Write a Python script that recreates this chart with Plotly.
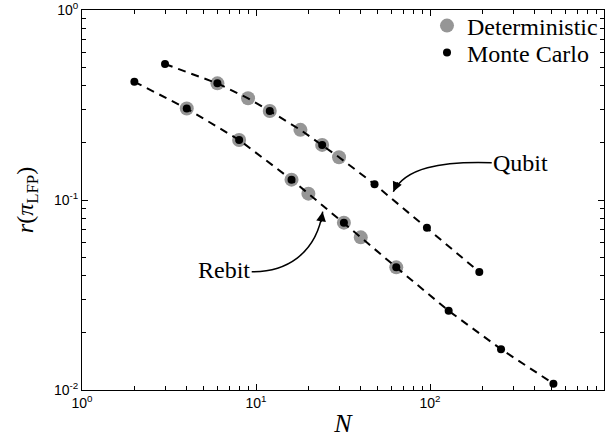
import plotly.graph_objects as go

# Qubit data (N, r)
qubit_det_N = [6, 9, 12, 18, 24, 30]
qubit_det_r = [0.411, 0.343, 0.294, 0.234, 0.195, 0.168]
qubit_mc_N = [3, 6, 12, 24, 48, 96, 192]
qubit_mc_r = [0.520, 0.411, 0.294, 0.195, 0.121, 0.0715, 0.0418]

# Rebit data
rebit_det_N = [4, 8, 16, 20, 32, 40, 64]
rebit_det_r = [0.303, 0.207, 0.128, 0.108, 0.076, 0.0636, 0.0442]
rebit_mc_N = [2, 4, 8, 16, 32, 64, 128, 256, 512]
rebit_mc_r = [0.419, 0.303, 0.207, 0.128, 0.076, 0.0442, 0.0261, 0.0164, 0.0108]

# dashed guide curves through all the points
qubit_line_N = [3, 6, 9, 12, 18, 24, 30, 48, 96, 192]
qubit_line_r = [0.520, 0.411, 0.343, 0.294, 0.234, 0.195, 0.168, 0.121, 0.0715, 0.0418]
rebit_line_N = [2, 4, 8, 16, 20, 32, 40, 64, 128, 256, 512]
rebit_line_r = [0.419, 0.303, 0.207, 0.128, 0.108, 0.076, 0.0636, 0.0442, 0.0261, 0.0164, 0.0108]

x_major = [1, 10, 100, 1000]
x_major_text = ["10<sup>0</sup>", "10<sup>1</sup>", "10<sup>2</sup>", "10<sup>3</sup>"]
y_major = [0.01, 0.1, 1]
y_major_text = ["10<sup>-2</sup>", "10<sup>-1</sup>", "10<sup>0</sup>"]
x_minor = [m * d for d in (1, 10, 100) for m in range(2, 10)]
y_minor = [m * d for d in (0.01, 0.1) for m in range(2, 10)]

W, H = 611, 445
L, R, T, B = 82, 7, 10, 55
PW, PH = W - L - R, H - T - B

def px(x, y):
    # pixel position -> paper coordinates
    return (x - L) / PW, (H - B - y) / PH

SERIF = "Liberation Serif"
SANS = "Liberation Sans"
GRAY = "#969696"

fig = go.Figure()

fig.add_trace(go.Scatter(
    x=qubit_det_N + rebit_det_N, y=qubit_det_r + rebit_det_r,
    mode="markers", name="Deterministic", legend="legend",
    marker=dict(color=GRAY, size=14)
))
for xs, ys in ((qubit_line_N, qubit_line_r), (rebit_line_N, rebit_line_r)):
    fig.add_trace(go.Scatter(
        x=xs, y=ys, mode="lines", showlegend=False, hoverinfo="skip",
        line=dict(color="black", width=2, dash="8px,6px")
    ))
fig.add_trace(go.Scatter(
    x=qubit_mc_N + rebit_mc_N, y=qubit_mc_r + rebit_mc_r,
    mode="markers", name="Monte Carlo", legend="legend2",
    marker=dict(color="black", size=8)
))

# curved arrows (cubic paths in paper coordinates)
def curve(p0, c1, c2, p1):
    pts = [px(*p) for p in (p0, c1, c2, p1)]
    s = "M {:.4f},{:.4f} C {:.4f},{:.4f} {:.4f},{:.4f} {:.4f},{:.4f}".format(
        *[v for p in pts for v in p])
    return dict(type="path", xref="paper", yref="paper", path=s,
                line=dict(color="black", width=1.5))

fig.add_shape(curve((491.7, 162.7), (440, 161), (405, 168), (393.3, 191.7)))
fig.add_shape(curve((251.7, 271.7), (285, 272), (316, 255), (322.7, 211.7)))

def arrowhead(tip, ax, ay):
    x, y = px(*tip)
    fig.add_annotation(x=x, y=y, xref="paper", yref="paper", text="",
                       showarrow=True, ax=ax, ay=ay, arrowhead=2,
                       arrowsize=1.3, arrowwidth=1.5, arrowcolor="black")

arrowhead((393.3, 191.7), 5, -11)
arrowhead((322.7, 211.7), -2, 12)

for label, (lx, ly) in (("Qubit", (520.5, 162.7)), ("Rebit", (223.5, 270))):
    x, y = px(lx, ly)
    fig.add_annotation(x=x, y=y, xref="paper", yref="paper", text=label,
                       showarrow=False, xanchor="center", yanchor="middle",
                       font=dict(family=SERIF, size=24, color="black"))

axis_common = dict(
    type="log", showgrid=False, zeroline=False, automargin=False,
    showline=True, linecolor="black", linewidth=1, mirror="ticks",
    ticks="inside", ticklen=6, tickcolor="black", tickwidth=1,
    tickfont=dict(family=SANS, size=14, color="black"),
)

fig.update_xaxes(
    **axis_common, range=[0, 3],
    tickvals=x_major, ticktext=x_major_text,
    minor=dict(tickvals=x_minor, ticks="inside", ticklen=4, tickcolor="black"),
    title=dict(text="<i>N</i>", font=dict(family=SERIF, size=26, color="black"), standoff=4),
)
fig.update_yaxes(
    **axis_common, range=[-2, 0],
    tickvals=y_major, ticktext=y_major_text,
    minor=dict(tickvals=y_minor, ticks="inside", ticklen=4, tickcolor="black"),
    title=dict(text="<i>r</i>(<i>π</i><sub>LFP</sub>)",
               font=dict(family=SERIF, size=24, color="black"), standoff=13),
)

legend_style = dict(xanchor="left", yanchor="middle", bgcolor="rgba(0,0,0,0)",
                    font=dict(family=SERIF, size=24, color="black"),
                    itemsizing="trace")
fig.update_layout(
    width=W, height=H,
    margin=dict(l=L, r=R, t=T, b=B, autoexpand=False),
    font=dict(family=SERIF, color="black"),
    paper_bgcolor="white", plot_bgcolor="white",
    legend=dict(x=px(427, 0)[0], y=px(0, 26)[1], **legend_style),
    legend2=dict(x=px(427, 0)[0], y=px(0, 53)[1], **legend_style),
)

fig.write_html("out.html", config={"displayModeBar": False},
               post_script="document.body.style.margin='0';")
